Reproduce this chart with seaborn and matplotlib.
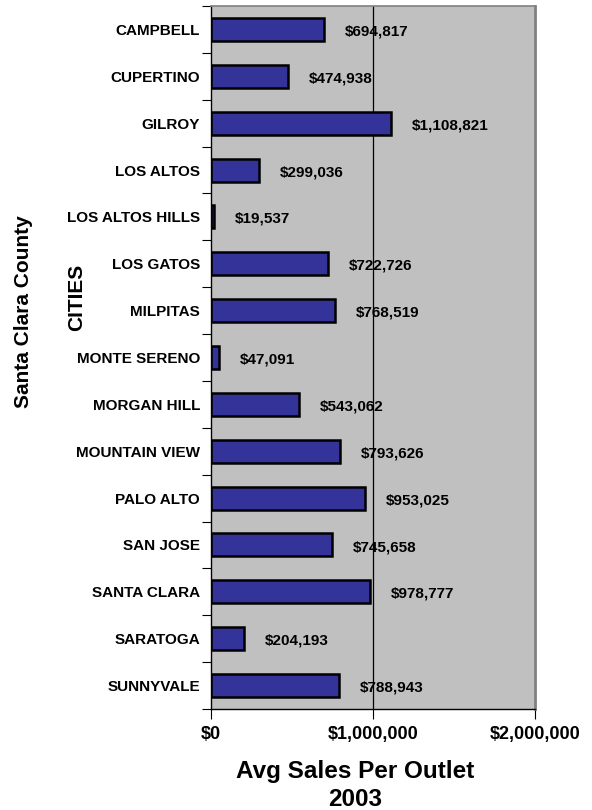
import numpy as np
import pandas as pd
import seaborn as sns
import matplotlib.pyplot as plt
from matplotlib.ticker import FuncFormatter

sns.set_style("white")
plt.rcParams['font.family'] = ['Liberation Sans', 'DejaVu Sans']
plt.rcParams['font.weight'] = 'bold'
plt.rcParams['text.color'] = 'black'
plt.rcParams['axes.labelcolor'] = 'black'
plt.rcParams['xtick.color'] = 'black'
plt.rcParams['ytick.color'] = 'black'

cities = ['CAMPBELL', 'CUPERTINO', 'GILROY', 'LOS ALTOS', 'LOS ALTOS HILLS',
          'LOS GATOS', 'MILPITAS', 'MONTE SERENO', 'MORGAN HILL',
          'MOUNTAIN VIEW', 'PALO ALTO', 'SAN JOSE', 'SANTA CLARA',
          'SARATOGA', 'SUNNYVALE']
sales = [694817, 474938, 1108821, 299036, 19537, 722726, 768519, 47091,
         543062, 793626, 953025, 745658, 978777, 204193, 788943]
xticks = [0, 1000000, 2000000]

df = pd.DataFrame({'City': cities, 'Sales': sales})

fig = plt.figure(figsize=(5.92, 8.1), dpi=100)
ax = fig.add_axes([0.3564, 0.1247, 0.5473, 0.8679])
ax.set_facecolor('#C0C0C0')

sns.barplot(data=df, y='City', x='Sales', orient='h', color='#333399',
            edgecolor='black', linewidth=1.8, width=0.49, saturation=1, ax=ax)

ax.axvline(1000000, color='black', linewidth=0.9, zorder=0)
ax.set_xlim(0, 2000000)
ax.set_ylim(len(cities) - 0.5, -0.5)
ax.set_xticks(xticks)
ax.xaxis.set_major_formatter(FuncFormatter(lambda v, p: '${:,.0f}'.format(v)))

for i, v in enumerate(sales):
    ax.annotate('${:,}'.format(v), xy=(v, i), xytext=(15, -1.5),
                textcoords='offset points', ha='left', va='center',
                fontsize=11, fontweight='bold', color='black')

# category boundaries get the tick marks, labels stay centred
ax.set_yticks(np.arange(len(cities) + 1) - 0.5, minor=True)
ax.tick_params(axis='y', which='major', labelsize=11, length=0, pad=8)
ax.tick_params(axis='y', which='minor', length=6.5, width=0.8, color='black',
               direction='out', left=True)
ax.tick_params(axis='x', labelsize=13, length=7, width=0.8, pad=5,
               direction='out', bottom=True, color='black')
for lab in ax.get_xticklabels() + ax.get_yticklabels():
    lab.set_fontweight('bold')

ax.set_xlabel('Avg Sales Per Outlet\n2003', fontsize=17.5, fontweight='bold',
              linespacing=1.3)
ax.xaxis.set_label_coords(0.444, -0.072)
ax.set_ylabel('')

for s in ['top', 'right']:
    ax.spines[s].set_color('#808080')
ax.spines['top'].set_linewidth(1.2)
ax.spines['right'].set_linewidth(2.0)
for s in ['left', 'bottom']:
    ax.spines[s].set_color('black')
    ax.spines[s].set_linewidth(1.0)

fig.text(0.130, 0.633, 'CITIES', rotation=90, ha='center', va='center',
         fontsize=15, fontweight='bold')
fig.text(0.039, 0.615, 'Santa Clara County', rotation=90, ha='center',
         va='center', fontsize=15, fontweight='bold')

fig.savefig('out.png', dpi=100, facecolor='white')
